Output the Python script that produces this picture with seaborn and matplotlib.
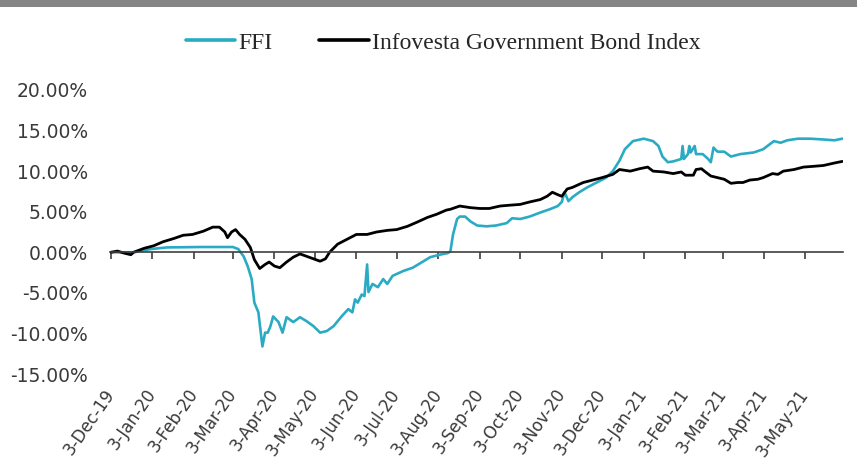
import matplotlib
matplotlib.use("Agg")
import matplotlib.dates as mdates
import matplotlib.pyplot as plt
from matplotlib.patches import Rectangle
import pandas as pd
import seaborn as sns


# Infovesta Government Bond Index, cumulative return (%)
bond_dates = [
    "2019-12-03", "2019-12-08", "2019-12-13", "2019-12-18", "2019-12-20", "2019-12-28",
    "2020-01-04", "2020-01-11", "2020-01-19", "2020-01-26", "2020-02-02", "2020-02-10",
    "2020-02-17", "2020-02-22", "2020-02-26", "2020-02-28", "2020-03-02", "2020-03-05",
    "2020-03-08", "2020-03-12", "2020-03-16", "2020-03-19", "2020-03-23", "2020-03-27",
    "2020-03-30", "2020-04-03", "2020-04-07", "2020-04-12", "2020-04-17", "2020-04-22",
    "2020-04-27", "2020-05-02", "2020-05-07", "2020-05-11", "2020-05-14", "2020-05-20",
    "2020-05-27", "2020-06-03", "2020-06-11", "2020-06-18", "2020-06-26", "2020-07-03",
    "2020-07-11", "2020-07-18", "2020-07-26", "2020-08-02", "2020-08-09", "2020-08-12",
    "2020-08-19", "2020-08-27", "2020-09-03", "2020-09-10", "2020-09-18", "2020-09-25",
    "2020-10-03", "2020-10-10", "2020-10-18", "2020-10-23", "2020-10-27", "2020-10-31",
    "2020-11-03", "2020-11-07", "2020-11-11", "2020-11-19", "2020-11-26", "2020-12-03",
    "2020-12-11", "2020-12-16", "2020-12-24", "2020-12-31", "2021-01-06", "2021-01-10",
    "2021-01-18", "2021-01-25", "2021-01-31", "2021-02-03", "2021-02-09", "2021-02-11",
    "2021-02-15", "2021-02-18", "2021-02-22", "2021-02-27", "2021-03-04", "2021-03-09",
    "2021-03-14", "2021-03-18", "2021-03-23", "2021-03-29", "2021-04-02", "2021-04-09",
    "2021-04-13", "2021-04-17", "2021-04-25", "2021-05-02", "2021-05-10", "2021-05-17",
    "2021-05-25", "2021-05-31",
]
bond_values = [
    0.0, 0.15, -0.1, -0.3, 0.0, 0.5,
    0.8, 1.3, 1.7, 2.1, 2.2, 2.6,
    3.1, 3.1, 2.5, 1.8, 2.5, 2.8,
    2.2, 1.6, 0.6, -0.9, -2.0, -1.5,
    -1.2, -1.7, -1.9, -1.2, -0.6, -0.2,
    -0.5, -0.8, -1.1, -0.8, 0.0, 1.0,
    1.6, 2.2, 2.2, 2.5, 2.7, 2.8,
    3.2, 3.7, 4.3, 4.7, 5.2, 5.3,
    5.7, 5.5, 5.4, 5.4, 5.7, 5.8,
    5.9, 6.2, 6.5, 6.9, 7.4, 7.1,
    6.9, 7.8, 8.0, 8.6, 8.9, 9.2,
    9.6, 10.2, 10.0, 10.3, 10.5, 10.0,
    9.9, 9.7, 9.9, 9.5, 9.5, 10.2,
    10.3, 9.9, 9.4, 9.2, 9.0, 8.5,
    8.6, 8.6, 8.9, 9.0, 9.2, 9.7,
    9.6, 10.0, 10.2, 10.5, 10.6, 10.7,
    11.0, 11.2,
]

# FFI, cumulative return (%)
ffi_dates = [
    "2019-12-03", "2019-12-20", "2020-01-02", "2020-01-14", "2020-02-08", "2020-03-03",
    "2020-03-07", "2020-03-11", "2020-03-14", "2020-03-17", "2020-03-19", "2020-03-22",
    "2020-03-25", "2020-03-27", "2020-03-29", "2020-03-31", "2020-04-02", "2020-04-06",
    "2020-04-09", "2020-04-12", "2020-04-17", "2020-04-22", "2020-04-27", "2020-05-02",
    "2020-05-07", "2020-05-12", "2020-05-17", "2020-05-23", "2020-05-28", "2020-05-31",
    "2020-06-02", "2020-06-04", "2020-06-07", "2020-06-09", "2020-06-11", "2020-06-12",
    "2020-06-15", "2020-06-19", "2020-06-23", "2020-06-26", "2020-06-30", "2020-07-08",
    "2020-07-15", "2020-07-23", "2020-07-28", "2020-08-04", "2020-08-10", "2020-08-12",
    "2020-08-14", "2020-08-17", "2020-08-19", "2020-08-23", "2020-08-27", "2020-09-01",
    "2020-09-08", "2020-09-15", "2020-09-23", "2020-09-27", "2020-10-03", "2020-10-10",
    "2020-10-18", "2020-10-25", "2020-10-31", "2020-11-03", "2020-11-05", "2020-11-08",
    "2020-11-11", "2020-11-16", "2020-11-22", "2020-11-29", "2020-12-06", "2020-12-11",
    "2020-12-16", "2020-12-20", "2020-12-26", "2021-01-03", "2021-01-10", "2021-01-14",
    "2021-01-17", "2021-01-21", "2021-01-25", "2021-01-31", "2021-02-01", "2021-02-02",
    "2021-02-05", "2021-02-06", "2021-02-07", "2021-02-10", "2021-02-11", "2021-02-16",
    "2021-02-20", "2021-02-22", "2021-02-24", "2021-02-27", "2021-03-04", "2021-03-09",
    "2021-03-16", "2021-03-26", "2021-04-02", "2021-04-10", "2021-04-15", "2021-04-20",
    "2021-04-28", "2021-05-07", "2021-05-17", "2021-05-25", "2021-05-31",
]
ffi_values = [
    0.0, 0.0, 0.4, 0.6, 0.65, 0.65,
    0.4, -0.5, -1.7, -3.3, -6.2, -7.4,
    -11.6, -9.9, -9.9, -9.1, -7.9, -8.6,
    -9.9, -8.0, -8.6, -8.0, -8.5, -9.1,
    -9.9, -9.7, -9.1, -7.9, -7.0, -7.4,
    -5.8, -6.2, -5.2, -5.4, -1.5, -4.9,
    -3.9, -4.3, -3.3, -3.9, -2.9, -2.3,
    -1.9, -1.1, -0.6, -0.3, -0.1, 0.1,
    2.2, 4.1, 4.4, 4.4, 3.8, 3.3,
    3.2, 3.3, 3.6, 4.2, 4.1, 4.4,
    4.9, 5.3, 5.7, 6.2, 7.4, 6.3,
    6.8, 7.4, 8.0, 8.6, 9.2, 10.0,
    11.3, 12.7, 13.7, 14.0, 13.7, 13.1,
    11.8, 11.1, 11.2, 11.5, 13.1, 11.5,
    12.1, 13.1, 12.3, 13.1, 12.1, 12.1,
    11.5, 11.1, 12.9, 12.4, 12.4, 11.8,
    12.1, 12.3, 12.7, 13.7, 13.5, 13.8,
    14.0, 14.0, 13.9, 13.8, 14.0,
]

tick_dates = [
    "2019-12-03", "2020-01-03", "2020-02-03", "2020-03-03", "2020-04-03", "2020-05-03",
    "2020-06-03", "2020-07-03", "2020-08-03", "2020-09-03", "2020-10-03", "2020-11-03",
    "2020-12-03", "2021-01-03", "2021-02-03", "2021-03-03", "2021-04-03", "2021-05-03",
]
tick_labels = [
    "3-Dec-19", "3-Jan-20", "3-Feb-20", "3-Mar-20", "3-Apr-20", "3-May-20",
    "3-Jun-20", "3-Jul-20", "3-Aug-20", "3-Sep-20", "3-Oct-20", "3-Nov-20",
    "3-Dec-20", "3-Jan-21", "3-Feb-21", "3-Mar-21", "3-Apr-21", "3-May-21",
]
y_ticks = [-15, -10, -5, 0, 5, 10, 15, 20]

FFI_COLOR = "#2aabc3"
BOND_COLOR = "#000000"

sns.set_theme(style="white")
plt.rcParams["font.family"] = ["DejaVu Sans"]


def to_num(dates):
    return mdates.date2num(pd.to_datetime(dates))


ffi_df = pd.DataFrame({"x": to_num(ffi_dates), "value": ffi_values})
bond_df = pd.DataFrame({"x": to_num(bond_dates), "value": bond_values})

fig = plt.figure(figsize=(8.57, 4.67), dpi=100)
ax = fig.add_axes([0.1284, 0.1991, 0.8553, 0.6082])

sns.lineplot(data=ffi_df, x="x", y="value", ax=ax, color=FFI_COLOR, linewidth=1.9, label="FFI")
sns.lineplot(data=bond_df, x="x", y="value", ax=ax, color=BOND_COLOR, linewidth=2.0,
             label="Infovesta Government Bond Index")
if ax.get_legend() is not None:
    ax.get_legend().remove()

ax.set_xlim(to_num(["2019-12-03"])[0] - 0.5, to_num(["2021-05-31"])[0] + 0.5)
ax.set_ylim(-15, 20)
ax.set_xlabel("")
ax.set_ylabel("")

ax.set_yticks(y_ticks)
ax.set_yticklabels([f"{v:.2f}%" for v in y_ticks])
ax.tick_params(axis="y", length=0, pad=16, labelsize=13.5, labelcolor="#3a3a3a")

# zero line carries the month ticks
for side in ["left", "right", "top"]:
    ax.spines[side].set_visible(False)
ax.spines["bottom"].set_position(("data", 0))
ax.spines["bottom"].set_color("#404040")
ax.spines["bottom"].set_linewidth(1.2)
ax.set_xticks(to_num(tick_dates))
ax.tick_params(axis="x", direction="out", length=5, width=1.2, color="#404040",
               labelbottom=False, bottom=True)

# month labels sit below the plot area
sec = ax.secondary_xaxis("bottom")
sec.set_ticks(to_num(tick_dates), labels=tick_labels)
sec.spines["bottom"].set_visible(False)
sec.tick_params(length=0, pad=12, labelsize=12, labelcolor="#3a3a3a")
for lbl in sec.get_xticklabels():
    lbl.set_rotation(55)
    lbl.set_ha("right")
    lbl.set_va("center")
    lbl.set_rotation_mode("anchor")

handles, labels = ax.get_legend_handles_labels()
fig.legend(handles, labels, loc="center", bbox_to_anchor=(443 / 857, 1 - 43 / 467), ncol=2,
           frameon=False, handlelength=2.1, handletextpad=0.12, columnspacing=2.0,
           prop={"family": "Liberation Serif", "size": 17})
for line in fig.legends[0].get_lines():
    line.set_linewidth(2.6)

# grey border strip along the top of the image
fig.add_artist(Rectangle((0, 1 - 7 / 467), 1, 7 / 467, transform=fig.transFigure,
                         facecolor="#858585", edgecolor="none"))

fig.savefig("out.png", dpi=100)
